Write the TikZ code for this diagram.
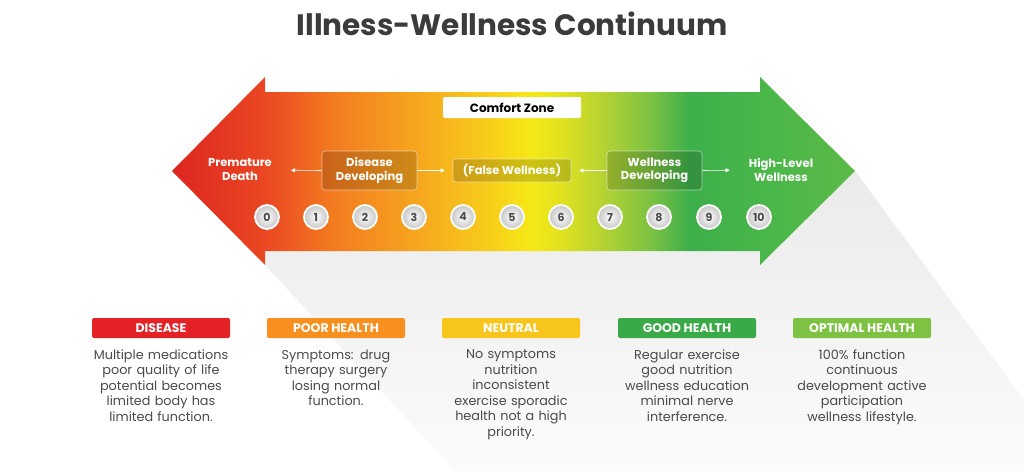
\documentclass[tikz,border=0pt]{standalone}
\usepackage{fontspec}
\setmainfont{Poppins}
\usetikzlibrary{arrows.meta}
\definecolor{titlegray}{HTML}{3B3B3B}
\definecolor{textgray}{HTML}{4A4A4A}
\definecolor{c0}{HTML}{DC2520}
\definecolor{c1}{HTML}{EA4722}
\definecolor{c2}{HTML}{F27A20}
\definecolor{c3}{HTML}{F6A81E}
\definecolor{c4}{HTML}{F7CE1A}
\definecolor{c5}{HTML}{F6E816}
\definecolor{c6}{HTML}{E2E21F}
\definecolor{c7}{HTML}{B8D431}
\definecolor{c8}{HTML}{7CC242}
\definecolor{c9}{HTML}{3DAF4A}
\definecolor{c10}{HTML}{4BB749}
\definecolor{c11}{HTML}{5BBA47}
\definecolor{hred}{HTML}{E42127}
\definecolor{horange}{HTML}{F7901E}
\definecolor{hyellow}{HTML}{F8C51C}
\definecolor{hgreen}{HTML}{3AAA48}
\definecolor{hlime}{HTML}{7DC242}
\pgfdeclarehorizontalshading{wellness}{100bp}{color(0bp)=(c0); color(25bp)=(c0); color(31.8bp)=(c1); color(36.6bp)=(c2); color(43.2bp)=(c3); color(48.3bp)=(c4); color(51.2bp)=(c5); color(53.4bp)=(c6); color(56.3bp)=(c7); color(60bp)=(c8); color(62.9bp)=(c9); color(69bp)=(c10); color(75bp)=(c11); color(100bp)=(c11)}
\tikzset{
  stage/.style={rounded corners=3pt, fill=black, fill opacity=0.16, draw=white, draw opacity=0.55, line width=0.6pt, text opacity=1, text=white, font=\bfseries\fontsize{11.5}{13.5}\selectfont, align=center, inner sep=0pt},
  endlabel/.style={text=white, font=\bfseries\fontsize{11.5}{14}\selectfont, align=center, inner sep=0pt},
  conn/.style={draw=white, line width=0.6pt, -{Triangle[length=4pt,width=4pt]}},
  num/.style={circle, minimum size=24pt, inner sep=0pt, draw=white, line width=1.8pt, inner color=white, outer color=gray!45, text=textgray, font=\bfseries\fontsize{11}{12}\selectfont},
  header/.style={rounded corners=2pt, minimum width=138pt, minimum height=20pt, inner sep=0pt, text=white, font=\bfseries\fontsize{12.5}{14}\selectfont},
  desc/.style={anchor=north, align=center, text width=170pt, inner sep=0pt, text=textgray, font=\fontsize{12.8}{15.5}\selectfont}
}
\begin{document}
\begin{tikzpicture}[x=1pt,y=-1pt]
\useasboundingbox (0,0) rectangle (1024,471);
% shadow
\shade[top color=gray!16, bottom color=gray!3] (265,251) -- (760,251) -- (760,265) -- (855,171) -- (1024,400) -- (1024,471) -- (455,471) -- (265,265) -- cycle;
% arrow
\shade[shading=wellness] (172,171) -- (265,77) -- (265,92) -- (760,92) -- (760,77) -- (855,171) -- (760,265) -- (760,251) -- (265,251) -- (265,265) -- cycle;
% title
\node[text=titlegray, font=\bfseries\fontsize{29.5}{34}\selectfont, inner sep=0pt] (title) at (512,24) {Illness-Wellness Continuum};
% comfort zone
\node[fill=white, rounded corners=2pt, minimum width=138pt, minimum height=21pt, inner sep=0pt, font=\bfseries\fontsize{12}{13}\selectfont] (cz) at (512,107.5) {Comfort Zone};
% stage labels
\node[endlabel] (pd) at (240,170) {Premature\\Death};
\node[stage, minimum width=95pt, minimum height=39pt] (dd) at (369.5,170.5) {Disease\\Developing};
\node[stage, minimum width=118pt, minimum height=23pt] (fw) at (512,170.5) {(False Wellness)};
\node[stage, minimum width=95pt, minimum height=39pt] (wd) at (654.5,170.5) {Wellness\\Developing};
\node[endlabel] (hl) at (781,170) {High-Level\\Wellness};
\draw[conn, shorten >=19pt] (dd.west) -- (pd.east);
\draw[conn, shorten >=8pt] (dd.east) -- (fw.west);
\draw[conn, shorten >=8pt] (wd.west) -- (fw.east);
\draw[conn, shorten >=19pt] (wd.east) -- (hl.west);
% numbers
\foreach \i/\x in {0/267,1/316,2/365,3/414,4/463,5/512,6/561,7/610,8/659,9/709,10/759}{
  \node[num] (n\i) at (\x,217) {\i};
}
% headers
\node[header, fill=hred] (h1) at (161,328) {DISEASE};
\node[header, fill=horange] (h2) at (336,328) {POOR HEALTH};
\node[header, fill=hyellow] (h3) at (511,328) {NEUTRAL};
\node[header, fill=hgreen] (h4) at (687,328) {GOOD HEALTH};
\node[header, fill=hlime] (h5) at (862,328) {OPTIMAL HEALTH};
% descriptions
\node[desc] (d1) at (161,349.5) {Multiple medications\\poor quality of life\\potential becomes\\limited body has\\limited function.};
\node[desc] (d2) at (336,349.5) {Symptoms: drug\\therapy surgery\\losing normal\\function.};
\node[desc] (d3) at (511,349.5) {No symptoms\\nutrition\\inconsistent\\exercise sporadic\\health not a high\\priority.};
\node[desc] (d4) at (687,349.5) {Regular exercise\\good nutrition\\wellness education\\minimal nerve\\interference.};
\node[desc] (d5) at (862,349.5) {100\% function\\continuous\\development active\\participation\\wellness lifestyle.};
\end{tikzpicture}
\end{document}
